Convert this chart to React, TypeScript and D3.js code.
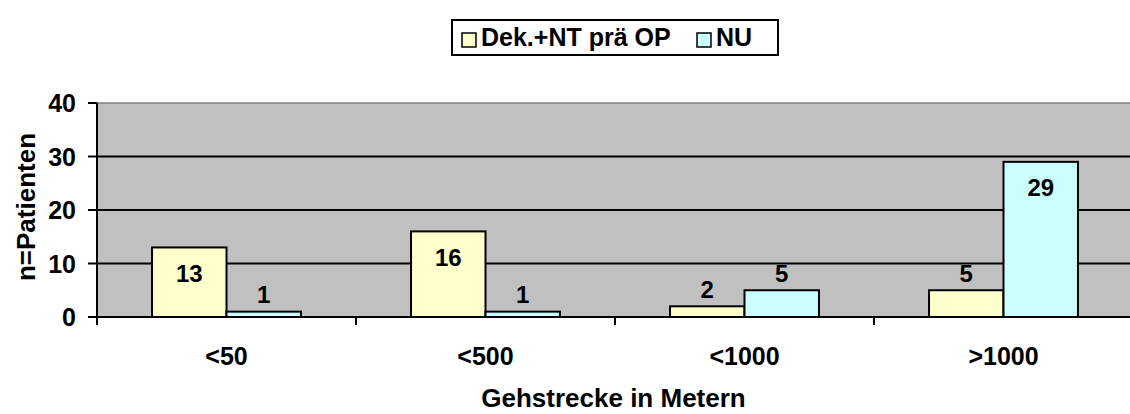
import { useMemo } from 'react';
import * as d3 from 'd3';

// Gehstrecke vor OP vs. Nachuntersuchung
const CATEGORIES = ['<50', '<500', '<1000', '>1000'];
const SERIES = ['Dek.+NT prä OP', 'NU'];
const PRAE_OP = [13, 16, 2, 5];
const NU = [1, 1, 5, 29];
const Y_TICKS = [0, 10, 20, 30, 40];

const COLORS = ['#FFFFCC', '#CCFFFF'];
const FONT = '"Liberation Sans", Arial, sans-serif';

const W = 1130;
const H = 414;
const M = { left: 97, top: 103, right: 1133, bottom: 317 };

export default function App() {
  const values = [PRAE_OP, NU];

  const x = useMemo(
    () => d3.scaleBand<string>().domain(CATEGORIES).range([M.left, M.right]).paddingInner(0.425).paddingOuter(0.2125),
    []
  );
  const xs = useMemo(
    () => d3.scaleBand<string>().domain(SERIES).range([0, x.bandwidth()]).padding(0),
    [x]
  );
  const y = useMemo(() => d3.scaleLinear().domain([0, 40]).range([M.bottom, M.top]), []);

  const step = x.step();
  const bounds = d3.range(CATEGORIES.length + 1).map(i => M.left + i * step);

  return (
    <div style={{ position: 'fixed', left: 0, top: 0, width: W, height: H, background: '#fff' }}>
      <svg width={W} height={H} style={{ display: 'block' }} fontFamily={FONT} fontWeight="bold">
        {/* Plotfläche */}
        <rect x={M.left} y={M.top} width={M.right - M.left} height={M.bottom - M.top} fill="#C0C0C0" stroke="#808080" strokeWidth={1.5} />

        {/* Gitterlinien */}
        {Y_TICKS.filter(t => t > 0 && t < 40).map(t => (
          <line key={t} x1={M.left} x2={M.right} y1={y(t)} y2={y(t)} stroke="#000" strokeWidth={2} />
        ))}

        {/* Balken */}
        {SERIES.map((s, si) =>
          CATEGORIES.map((c, ci) => {
            const v = values[si][ci];
            const bx = (x(c) ?? 0) + (xs(s) ?? 0);
            return (
              <rect key={s + c} x={bx} y={y(v)} width={xs.bandwidth()} height={y(0) - y(v)}
                fill={COLORS[si]} stroke="#000" strokeWidth={2} />
            );
          })
        )}

        {/* Achsen */}
        <line x1={M.left} x2={M.right} y1={M.bottom} y2={M.bottom} stroke="#000" strokeWidth={2} />
        <line x1={M.left} x2={M.left} y1={M.top} y2={M.bottom + 8} stroke="#000" strokeWidth={2} />
        {Y_TICKS.map(t => (
          <g key={t}>
            <line x1={M.left - 9} x2={M.left} y1={y(t)} y2={y(t)} stroke="#000" strokeWidth={2} />
            <text x={76} y={y(t) + 9} textAnchor="end" fontSize={25}>{t}</text>
          </g>
        ))}
        {bounds.map((bx, i) => (
          <line key={i} x1={bx} x2={bx} y1={M.bottom} y2={M.bottom + 8} stroke="#000" strokeWidth={2} />
        ))}
        {CATEGORIES.map(c => (
          <text key={c} x={(x(c) ?? 0) + x.bandwidth() / 2} y={365} textAnchor="middle" fontSize={25}>{c}</text>
        ))}

        {/* Datenbeschriftung */}
        {SERIES.map((s, si) =>
          CATEGORIES.map((c, ci) => {
            const v = values[si][ci];
            const cx = (x(c) ?? 0) + (xs(s) ?? 0) + xs.bandwidth() / 2;
            const cy = v >= 10 ? y(v) + 26 : y(v) - 17;
            return (
              <text key={'l' + s + c} x={cx} y={cy + 8.6} textAnchor="middle" fontSize={24}>{v}</text>
            );
          })
        )}

        {/* Achsentitel */}
        <text x={(M.left + W) / 2} y={407} textAnchor="middle" fontSize={26}>Gehstrecke in Metern</text>
        <text transform="translate(35,207) rotate(-90)" textAnchor="middle" fontSize={26}>n=Patienten</text>

        {/* Legende */}
        <rect x={452} y={20} width={326} height={35} fill="#fff" stroke="#000" strokeWidth={2} />
        <rect x={462} y={33} width={14} height={14} fill={COLORS[0]} stroke="#000" strokeWidth={1.5} />
        <text x={481} y={46} fontSize={25}>{SERIES[0]}</text>
        <rect x={697} y={33} width={14} height={14} fill={COLORS[1]} stroke="#000" strokeWidth={1.5} />
        <text x={716} y={46} fontSize={25}>{SERIES[1]}</text>
      </svg>
    </div>
  );
}
